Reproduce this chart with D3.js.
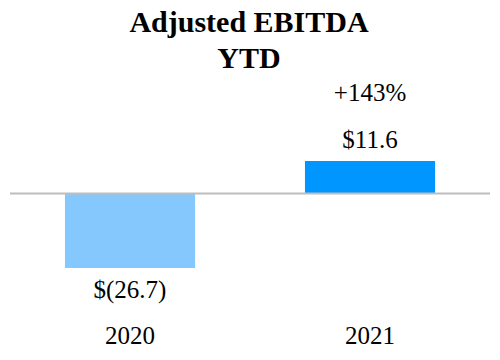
<!DOCTYPE html>
<html>
<head>
<meta charset="utf-8">
<script src="https://cdn.jsdelivr.net/npm/d3@7"></script>
<style>
  html, body { margin: 0; padding: 0; background: #fff; }
  svg { display: block; }
  text { font-family: "Liberation Serif", "Times New Roman", serif; fill: #000; }
</style>
</head>
<body>
<svg id="chart" width="500" height="360"></svg>
<script>
const titleLines = ["Adjusted EBITDA", "YTD"];
const categories = ["2020", "2021"];
const values = [-26.7, 11.6];
const valueLabels = ["$(26.7)", "$11.6"];
const changeLabel = "+143%";
const barColors = ["#85C8FD", "#0096FF"];

const svg = d3.select("#chart");

const x = d3.scaleBand()
  .domain(categories)
  .range([10, 490])
  .paddingInner(0.458)
  .paddingOuter(0.229);

const y = d3.scaleLinear()
  .domain([-26.7, 11.6])
  .range([268, 161]);

// title
svg.append("g").selectAll("text")
  .data(titleLines)
  .join("text")
  .attr("x", 249)
  .attr("y", (d, i) => 32 + i * 36)
  .attr("text-anchor", "middle")
  .style("font-size", "30px")
  .style("font-weight", "bold")
  .text(d => d);

// bars
svg.append("g").selectAll("rect")
  .data(values)
  .join("rect")
  .attr("x", (d, i) => x(categories[i]))
  .attr("width", x.bandwidth())
  .attr("y", d => y(Math.max(0, d)))
  .attr("height", d => Math.abs(y(d) - y(0)))
  .attr("fill", (d, i) => barColors[i]);

// zero line
svg.append("line")
  .attr("x1", 10).attr("x2", 490)
  .attr("y1", y(0)).attr("y2", y(0))
  .attr("stroke", "#bdbdbd")
  .attr("stroke-width", 2);

// value labels
svg.append("g").selectAll("text")
  .data(values)
  .join("text")
  .attr("x", (d, i) => x(categories[i]) + x.bandwidth() / 2)
  .attr("y", d => d < 0 ? y(d) + 30 : y(d) - 13)
  .attr("text-anchor", "middle")
  .style("font-size", "25px")
  .text((d, i) => valueLabels[i]);

// change label
svg.append("text")
  .attr("x", x("2021") + x.bandwidth() / 2)
  .attr("y", y(values[1]) - 60)
  .attr("text-anchor", "middle")
  .style("font-size", "25px")
  .text(changeLabel);

// category axis
const axis = d3.axisBottom(x).tickSize(0).tickPadding(0);
const gAxis = svg.append("g")
  .attr("transform", "translate(0,326)")
  .call(axis);
gAxis.select(".domain").remove();
gAxis.selectAll("text")
  .attr("dy", "0.71em")
  .style("font-family", "'Liberation Serif', 'Times New Roman', serif")
  .style("font-size", "25px")
  .attr("fill", "#000");
</script>
</body>
</html>
